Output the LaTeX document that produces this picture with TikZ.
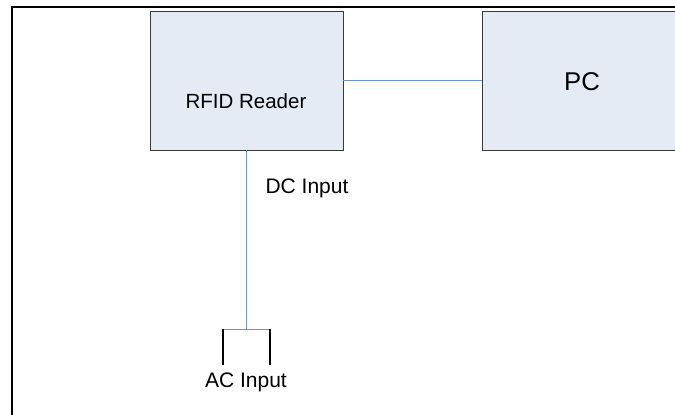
\documentclass[tikz,border=0pt]{standalone}
\usepackage{fontspec}
\setmainfont{Liberation Sans}
\definecolor{boxfill}{HTML}{E4EBF5}
\definecolor{boxline}{HTML}{3A3A3A}
\definecolor{wire}{HTML}{6A93D4}
\begin{document}
\begin{tikzpicture}[x=1pt,y=-1pt,
  blk/.style={draw=boxline,fill=boxfill,line width=0.9pt,rectangle,inner sep=0pt},
  wireline/.style={draw=wire,line width=1pt},
  lbl/.style={inner sep=0pt,text=black,font=\fontsize{20.5}{24}\selectfont}]
\useasboundingbox (0,0) rectangle (675,415);
\fill[white] (0,0) rectangle (675,415);
% outer frame (top and left only)
\draw[line width=2.2pt,line cap=rect] (680,6.8) -- (12,6.8) -- (12,420);
% boxes
\node[blk,minimum width=193pt,minimum height=139pt] (rfid) at (246.5,80.5) {};
\node[lbl] (rfidtxt) at (246,101) {RFID Reader};
\node[blk,minimum width=240pt,minimum height=139pt] (pc) at (602,80.5) {};
\node[lbl,font=\fontsize{25.7}{30}\selectfont] (pctxt) at (582,82) {PC};
% connectors
\draw[wireline] (rfid.east) -- (pc.west);
\coordinate (acmid) at (246.5,329);
\coordinate (acl) at (223,329);
\coordinate (acr) at (270,329);
\coordinate (acld) at (223,365);
\coordinate (acrd) at (270,365);
\draw[wireline] (rfid.south) -- (acmid);
\draw[wireline] (acl) -- (acr);
\draw[line width=1.6pt,black] (acl) -- (acld);
\draw[line width=1.6pt,black] (acr) -- (acrd);
% labels
\node[lbl,font=\fontsize{21}{25}\selectfont] (dclbl) at (307,188) {DC Input};
\node[lbl,font=\fontsize{21}{25}\selectfont] (aclbl) at (246,382) {AC Input};
\end{tikzpicture}
\end{document}
